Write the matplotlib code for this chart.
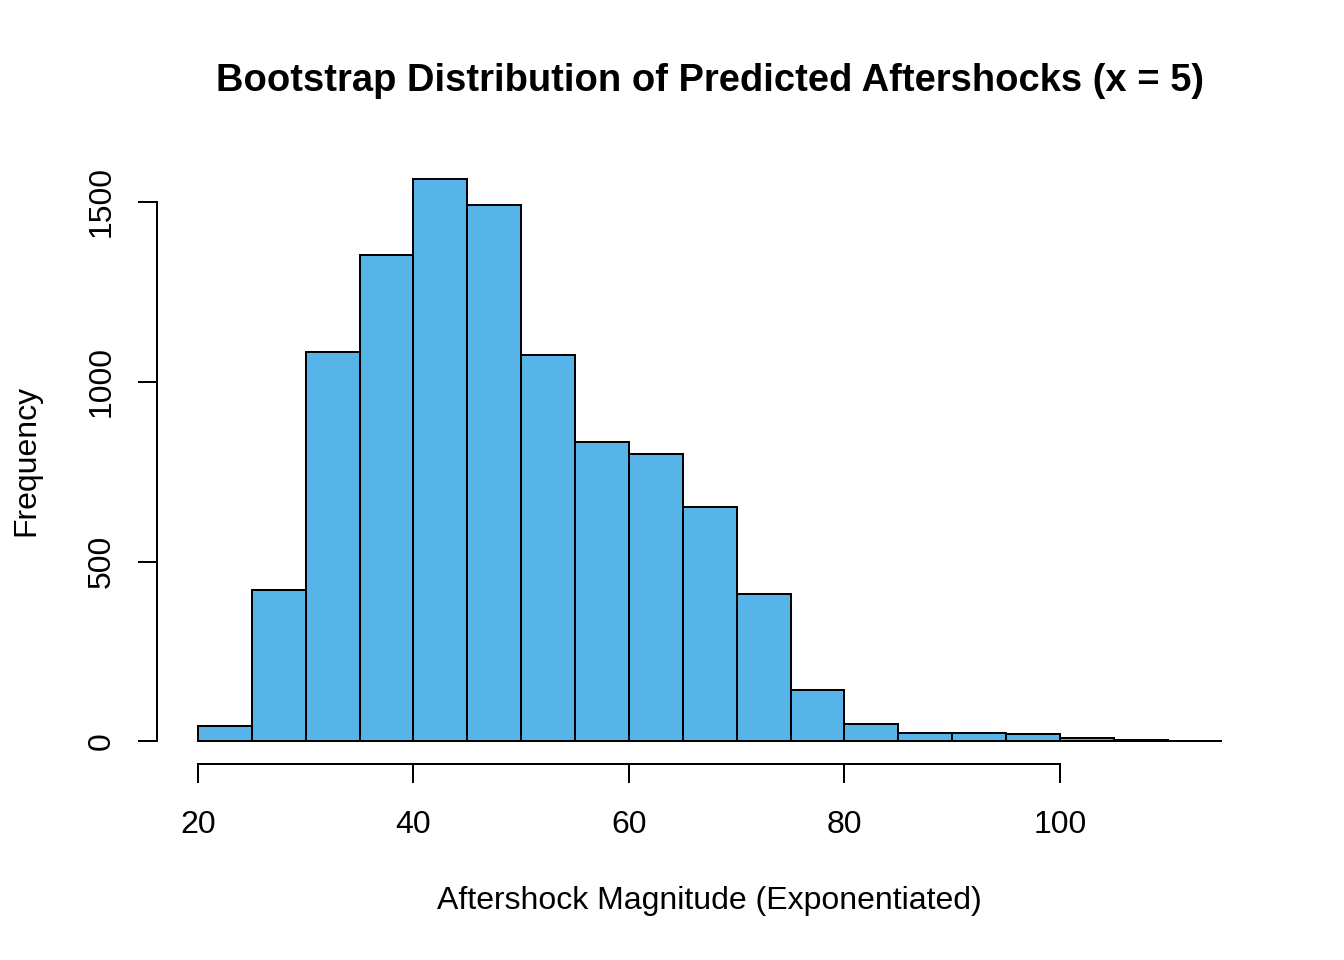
import matplotlib
matplotlib.use("Agg")
import matplotlib.pyplot as plt
import numpy as np

bin_edges = [20, 25, 30, 35, 40, 45, 50, 55, 60, 65, 70, 75, 80, 85, 90, 95, 100, 105, 110, 115]
counts = [42, 421, 1083, 1352, 1564, 1490, 1074, 833, 799, 652, 409, 142, 48, 23, 23, 20, 9, 5, 2]
x_ticks = [20, 40, 60, 80, 100]
y_ticks = [0, 500, 1000, 1500]
title = "Bootstrap Distribution of Predicted Aftershocks (x = 5)"
xlabel = "Aftershock Magnitude (Exponentiated)"
ylabel = "Frequency"

plt.rcParams['font.family'] = ['Liberation Sans', 'DejaVu Sans']

W, H = 1344, 960
fig = plt.figure(figsize=(7, 5), dpi=192)
left, right, bottom, top = 157, 1262.6, 764, 156
ax = fig.add_axes([left / W, 1 - bottom / H, (right - left) / W, (bottom - top) / H])

edges = np.array(bin_edges, dtype=float)
ax.bar(edges[:-1], counts, width=np.diff(edges), align='edge',
       color='#56B4E9', edgecolor='black', linewidth=0.75)

xr = edges[-1] - edges[0]
ax.set_xlim(edges[0] - 0.04 * xr, edges[-1] + 0.04 * xr)
ymax = max(counts)
ax.set_ylim(-0.04 * ymax, ymax * 1.04)

for s in ['top', 'right']:
    ax.spines[s].set_visible(False)
ax.spines['bottom'].set_bounds(x_ticks[0], x_ticks[-1])
ax.spines['left'].set_bounds(y_ticks[0], y_ticks[-1])
for s in ['bottom', 'left']:
    ax.spines[s].set_linewidth(0.75)

ax.set_xticks(x_ticks)
ax.set_yticks(y_ticks)
ax.set_yticklabels([str(v) for v in y_ticks], rotation=90, va='center')
ax.tick_params(axis='both', direction='out', length=7.2, width=0.75, labelsize=12)
ax.tick_params(axis='x', pad=10)
ax.tick_params(axis='y', pad=8)

fig.text((left + right) / 2 / W, 1 - 81 / H, title, ha='center', va='center',
         fontsize=14.3, fontweight='bold')
fig.text((left + right) / 2 / W, 1 - 901 / H, xlabel, ha='center', va='center', fontsize=12)
fig.text(26 / W, 1 - ((top + bottom) / 2) / H, ylabel, ha='center', va='center',
         fontsize=12, rotation=90)

fig.savefig("out.png", dpi=192)
